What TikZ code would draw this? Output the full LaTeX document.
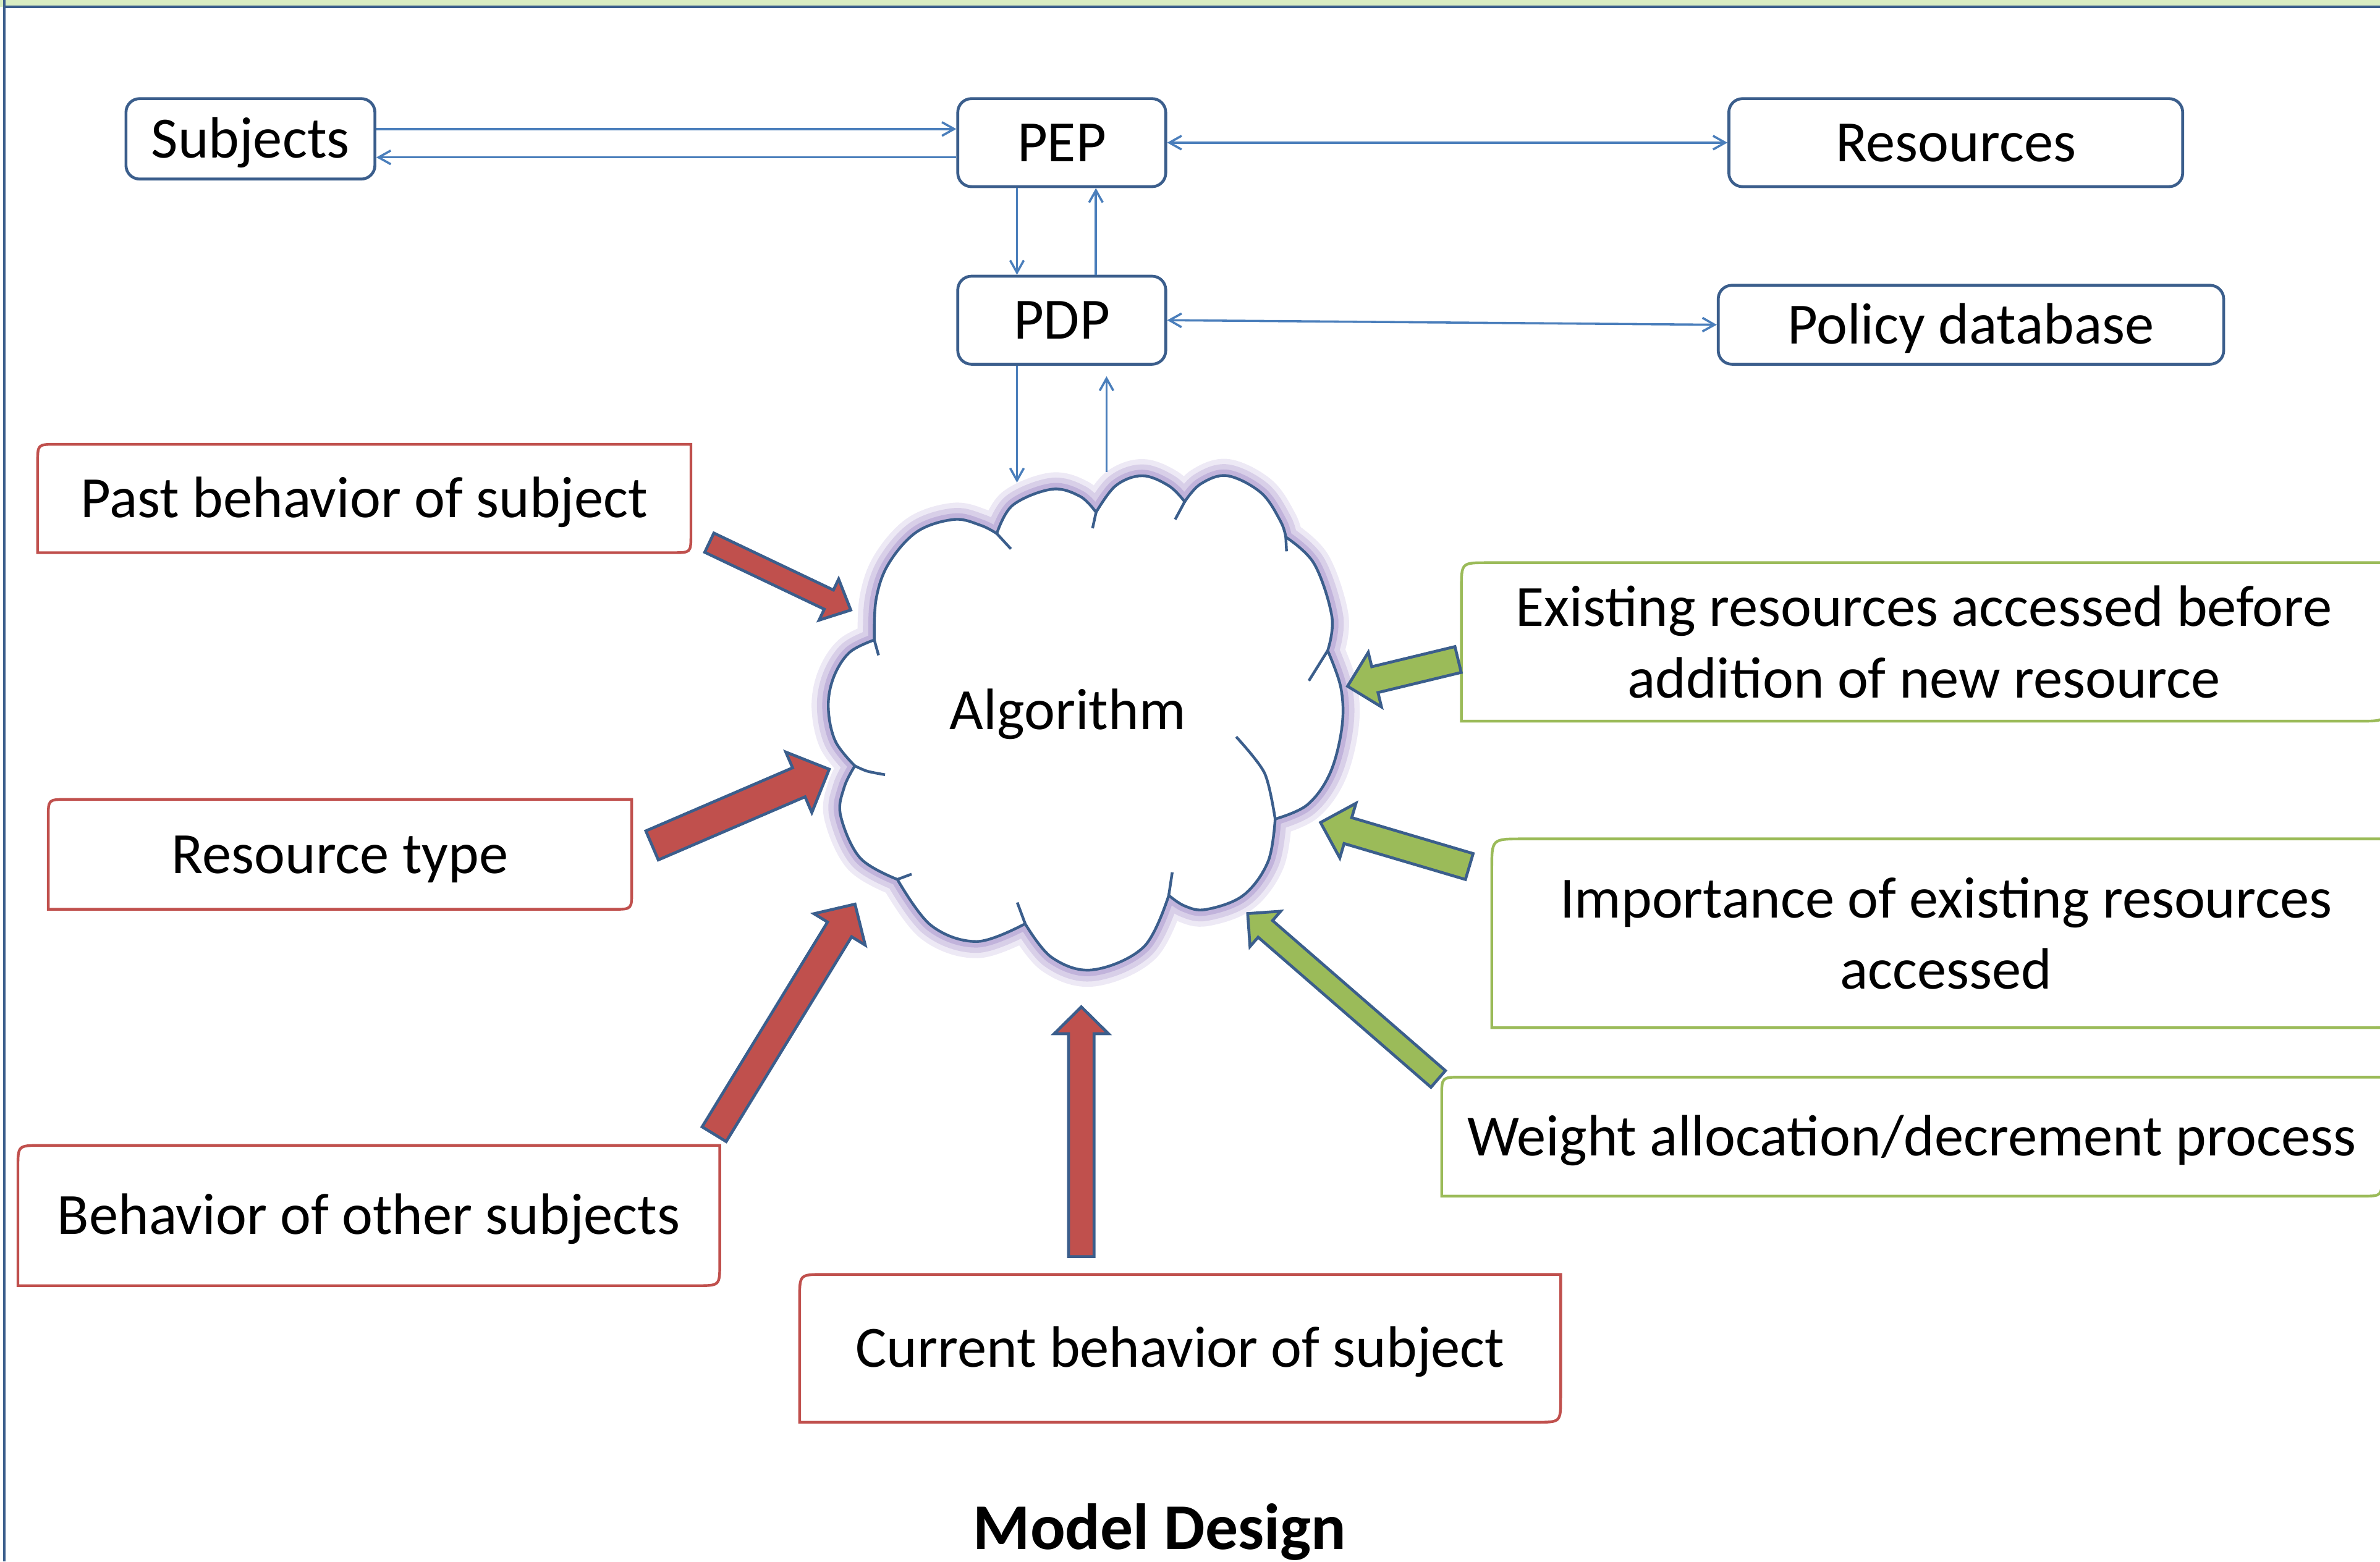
\documentclass[tikz,border=0pt]{standalone}
\usepackage{fontspec}
\setmainfont{Carlito}
\usetikzlibrary{calc,arrows.meta}
\definecolor{boxblue}{HTML}{3B5E8C}
\definecolor{lineblue}{HTML}{4A7EBB}
\definecolor{redfill}{HTML}{C0504D}
\definecolor{greenfill}{HTML}{9BBB59}
\definecolor{glow}{HTML}{B8A7D6}
\definecolor{band}{HTML}{D9EDC2}
\newcommand{\labelfont}{\fontsize{38.5}{47}\selectfont}
% frame with round top-left and bottom-right corners
\newcommand{\diagframe}[3]{%
  \draw[#1] (#2.north east) -- ([yshift=#3]#2.south east) .. controls (#2.south east) .. ([xshift=-#3]#2.south east)
    -- (#2.south west) -- ([yshift=-#3]#2.north west) .. controls (#2.north west) .. ([xshift=#3]#2.north west) -- cycle;}
% block arrow: style, tail, tip, half shaft, half head, head length
\newcommand{\blockarrow}[6]{%
  \coordinate (ba-base) at ($(#3)!#6!(#2)$);
  \draw[#1] ($(#2)!#4!90:(#3)$) -- ($(ba-base)!#4!-90:(#2)$) -- ($(ba-base)!#5!-90:(#2)$) -- (#3)
    -- ($(ba-base)!#5!90:(#2)$) -- ($(ba-base)!#4!90:(#2)$) -- ($(#2)!#4!-90:(#3)$) -- cycle;}
\tikzset{
  bbox/.style={draw=boxblue, line width=1.9pt, rounded corners=9pt, fill=white, inner sep=0pt,
    font=\labelfont, text height=25pt, text depth=0pt},
  tbox/.style={inner sep=0pt, font=\labelfont, align=center},
  oneline/.style={text height=25pt, text depth=0pt},
  conn/.style={draw=lineblue, line width=1.45pt, >={Straight Barb[length=8pt,width=9pt]}},
  redframe/.style={draw=redfill, line width=1.8pt},
  greenframe/.style={draw=greenfill, line width=1.8pt},
  redarrow/.style={fill=redfill, draw=boxblue, line width=1.9pt},
  greenarrow/.style={fill=greenfill, draw=boxblue, line width=1.9pt},
  cloudline/.style={draw=boxblue, line width=1.8pt},
  frameline/.style={draw=boxblue, line width=1.5pt}
}
\begin{document}
\begin{tikzpicture}[x=1pt, y=-1pt]
  \useasboundingbox (0,0) rectangle (1568,1029);

  \fill[band] (0,0) rectangle (1568,4.4);
  \draw[frameline] (2.8,0) -- (2.8,1029);
  \draw[frameline] (2.8,4.6) -- (1568,4.6);

  \node[bbox, minimum width=164pt, minimum height=53pt] (subj) at (165,91.5) {Subjects};
  \node[bbox, minimum width=137pt, minimum height=58pt] (pep) at (699.5,94) {PEP};
  \node[bbox, minimum width=299pt, minimum height=58pt] (res) at (1288.5,94) {Resources};
  \node[bbox, minimum width=137pt, minimum height=58pt] (pdp) at (699.5,211) {PDP};
  \node[bbox, minimum width=333pt, minimum height=52pt] (pdb) at (1298.5,214) {Policy database};

  % cloud
  \draw[cloudline, fill=white,
    preaction={draw=glow, fill=none, line width=22pt, draw opacity=0.25},
    preaction={draw=glow, fill=none, line width=15pt, draw opacity=0.4},
    preaction={draw=glow, fill=none, line width=8pt, draw opacity=0.7}]
    plot[smooth, tension=0.6] coordinates {(576.0,421.7) (577.2,394.8) (585.4,371.5) (604.1,350.4) (628.6,342.3) (646.2,346.2) (656.7,351.6)}
    -- plot[smooth, tension=0.6] coordinates {(656.7,351.6) (667.2,332.9) (692.9,322.4) (711.6,327.1) (722.1,337.6)}
    -- plot[smooth, tension=0.6] coordinates {(722.1,337.6) (735.0,320.1) (752.5,313.5) (770.0,320.1) (780.5,330.6)}
    -- plot[smooth, tension=0.6] coordinates {(780.5,330.6) (791.0,318.9) (808.6,313.5) (830.8,324.7) (843.6,343.4) (847.1,353.9)}
    -- plot[smooth, tension=0.6] coordinates {(847.1,353.9) (865.8,371.5) (877.5,406.5) (874.7,428.7)}
    -- plot[smooth, tension=0.6] coordinates {(874.7,428.7) (883.4,453.3) (884.1,479.0) (876.3,509.4) (861.2,530.4) (840.1,539.7)}
    -- plot[smooth, tension=0.6] coordinates {(840.1,539.7) (835.4,567.8) (819.1,590.0) (794.6,599.3) (780.5,597.0) (770.0,590.0)}
    -- plot[smooth, tension=0.6] coordinates {(770.0,590.0) (753.6,623.9) (719.8,639.1) (692.9,630.9) (675.4,608.7)}
    -- plot[smooth, tension=0.6] coordinates {(675.4,608.7) (643.8,620.4) (613.4,609.8) (591.2,579.5)}
    -- plot[smooth, tension=0.6] coordinates {(591.2,579.5) (566.7,565.4) (553.8,537.4) (556.2,518.7) (563.2,504.7)}
    -- plot[smooth, tension=0.6] coordinates {(563.2,504.7) (550.3,488.3) (545.7,466.1) (549.2,446.3) (559.7,429.9) (576.0,421.7)}
    -- cycle;
  \draw[cloudline] (576.0,421.7) -- (578.8,431.8);
  \draw[cloudline] (656.7,351.6) -- (666.0,361.7);
  \draw[cloudline] (722.1,337.6) -- (719.8,348.1);
  \draw[cloudline] (780.5,330.6) -- (774.2,342.3);
  \draw[cloudline] (847.1,353.9) -- (847.6,363.3);
  \draw[cloudline] (874.7,428.7) -- (862.3,448.6);
  \draw[cloudline] plot[smooth] coordinates {(840.1,539.7) (833.1,509.4) (814.4,485.5)};
  \draw[cloudline] (770.0,590.0) -- (772.3,574.8);
  \draw[cloudline] (675.4,608.7) -- (670.2,594.7);
  \draw[cloudline] (591.2,579.5) -- (600.6,576.0);
  \draw[cloudline] plot[smooth] coordinates {(563.2,504.7) (571.4,508.2) (583.1,510.5)};
  \node[tbox, oneline] (alg) at (703.5,468) {Algorithm};

  \coordinate (algin) at (670,318);
  \coordinate (algout) at (729,311);

  \draw[conn,->] ([yshift=6.5pt]subj.east) -- ([yshift=9pt]pep.west);
  \draw[conn,->] ([yshift=-9.7pt]pep.west) -- ([yshift=-12.2pt]subj.east);
  \draw[conn,<->] (pep.east) -- (res.west);
  \draw[conn,->] ([xshift=-29.5pt]pep.south) -- ([xshift=-29.5pt]pdp.north);
  \draw[conn,->] ([xshift=22.5pt]pdp.north) -- ([xshift=22.5pt]pep.south);
  \draw[conn,<->] (pdp.east) -- (pdb.west);
  \draw[conn,->] ([xshift=-29.5pt]pdp.south) -- (algin);
  \draw[conn,->] (algout) -- ([xshift=29.5pt,yshift=-7pt]pdp.south);

  % factors
  \node[tbox, oneline, minimum width=430pt, minimum height=71pt] (past) at (240,328.5) {Past behavior of subject};
  \node[tbox, oneline, minimum width=384pt, minimum height=72pt] (rtype) at (224,563) {Resource type};
  \node[tbox, oneline, minimum width=462pt, minimum height=92pt] (others) at (243,801) {Behavior of other subjects};
  \node[tbox, oneline, minimum width=501pt, minimum height=97pt] (current) at (777.5,888.5) {Current behavior of subject};
  \node[tbox, minimum width=609pt, minimum height=104pt] (exist) at (1267.5,423) {Existing resources accessed before\\addition of new resource};
  \node[tbox, minimum width=598pt, minimum height=124pt] (import) at (1282,615) {Importance of existing resources\\accessed};
  \node[tbox, oneline, minimum width=619pt, minimum height=78pt] (weight) at (1259.5,749) {Weight allocation/decrement process};
  \diagframe{redframe}{past}{12pt}
  \diagframe{redframe}{rtype}{12pt}
  \diagframe{redframe}{others}{15pt}
  \diagframe{redframe}{current}{16pt}
  \diagframe{greenframe}{exist}{17pt}
  \diagframe{greenframe}{import}{20pt}
  \diagframe{greenframe}{weight}{13pt}

  \coordinate (pastT) at (467.3,357.6);   \coordinate (pastH) at (560.5,402.0);
  \coordinate (rtypeT) at (429.6,557.1);  \coordinate (rtypeH) at (546.3,506.9);
  \coordinate (othersT) at (470.5,747.4); \coordinate (othersH) at (563.3,595.8);
  \coordinate (currT) at (712.4,828);     \coordinate (currH) at (712.4,663.5);
  \coordinate (existT) at (960.6,434.6);  \coordinate (existH) at (887.8,452.2);
  \coordinate (impT) at (968,571);        \coordinate (impH) at (870,542);
  \coordinate (weightT) at (947.5,711);   \coordinate (weightH) at (822,602);
  \blockarrow{redarrow}{pastT}{pastH}{7pt}{15pt}{16pt}
  \blockarrow{redarrow}{rtypeT}{rtypeH}{10.4pt}{21.7pt}{21.8pt}
  \blockarrow{redarrow}{othersT}{othersH}{9.3pt}{19.8pt}{19.5pt}
  \blockarrow{redarrow}{currT}{currH}{8.4pt}{17.9pt}{17.7pt}
  \blockarrow{greenarrow}{existT}{existH}{8.75pt}{18.5pt}{18.5pt}
  \blockarrow{greenarrow}{impT}{impH}{8.9pt}{18.8pt}{18.8pt}
  \blockarrow{greenarrow}{weightT}{weightH}{7.25pt}{15.4pt}{15.4pt}

  \node[font=\bfseries\fontsize{43}{50}\selectfont, anchor=base] (title) at (764,1021) {Model Design};
\end{tikzpicture}
\end{document}
